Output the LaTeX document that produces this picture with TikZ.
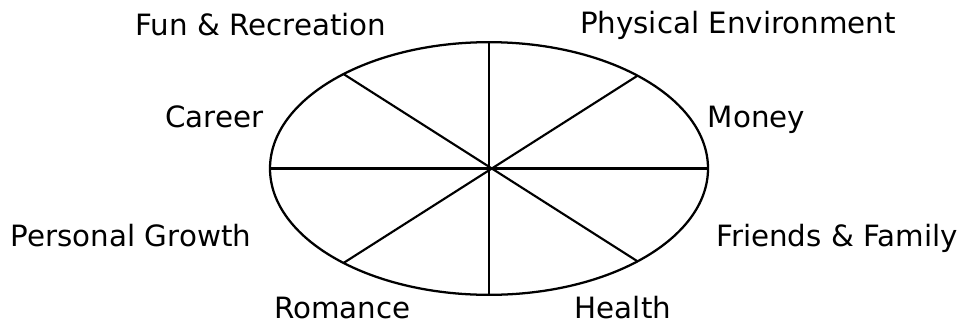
\documentclass[tikz,border=0pt]{standalone}
\usepackage{fontspec}
\setmainfont{DejaVu Sans}
\usetikzlibrary{shapes.geometric}

\begin{document}
\begin{tikzpicture}[
    x=0.75pt, y=-0.75pt,
    every node/.style={font=\fontsize{22}{26}\selectfont},
    area/.style={anchor=base, inner sep=0pt},
    wheel/.style={ellipse, draw, line width=1.7pt, inner sep=0pt, outer sep=0pt,
                  minimum width=328.5pt, minimum height=189.5pt},
    spoke/.style={line width=1.6pt},
]
\useasboundingbox (0,0) rectangle (962,326);

% The wheel
\node[wheel] (w) at (489,168.5) {};

% Spokes
\draw[spoke] (w.north) -- (w.south);
\draw[spoke] (w.west) -- (w.east);
\draw[spoke] (w.147.5) -- (w.-32.5);
\draw[spoke] (w.32.5) -- (w.-147.5);

% Areas of life
\node[area] (fun) at (261,35) {Fun \& Recreation};
\node[area] (phys) at (738,33) {Physical Environment};
\node[area] (career) at (214.5,127) {Career};
\node[area] (money) at (756.5,127) {Money};
\node[area] (growth) at (131,246) {Personal Growth};
\node[area] (friends) at (837,246) {Friends \& Family};
\node[area] (romance) at (342.5,318) {Romance};
\node[area] (health) at (623,318) {Health};

\end{tikzpicture}
\end{document}
